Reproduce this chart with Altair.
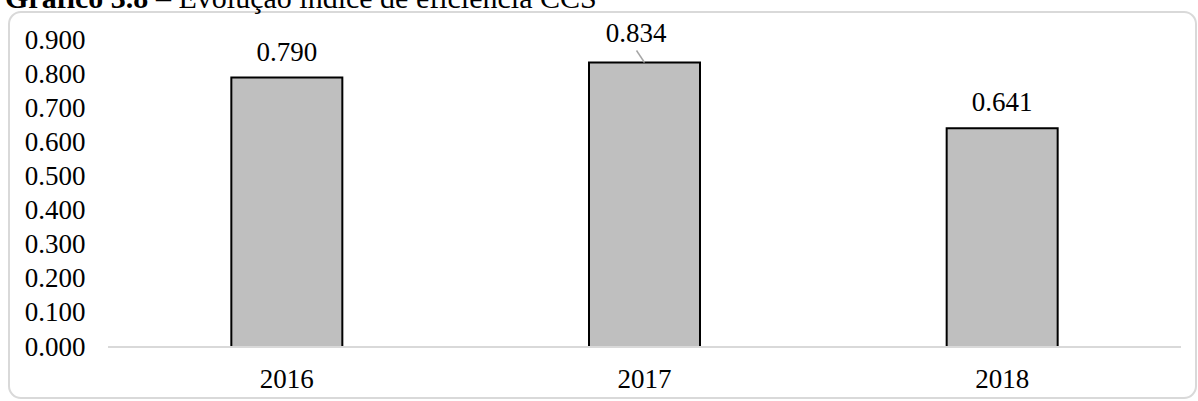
import altair as alt
import pandas as pd

# Índice de eficiência CCS por ano
anos = ["2016", "2017", "2018"]
indices = [0.790, 0.834, 0.641]
marcas_y = [0.0, 0.1, 0.2, 0.3, 0.4, 0.5, 0.6, 0.7, 0.8, 0.9]

titulo_negrito = "Gráfico 3.8"
titulo_resto = "– Evolução índice de eficiência CCS"

FONTE = "Liberation Serif"
W, H = 1073, 307
PAD = {"left": 108, "top": 40, "right": 17, "bottom": 54}

dados = pd.DataFrame({"ano": anos, "indice": indices})
zero = pd.DataFrame({"indice": [0.0]})
um = alt.Data(values=[{}])

escala_x = alt.Scale(domain=anos, paddingInner=0, paddingOuter=0)
escala_y = alt.Scale(domain=[0, 0.9], nice=False, zero=True)

eixo_x = alt.Axis(
    title=None, labelAngle=0, domain=False, ticks=False, tickSize=0,
    labelPadding=40, labelBaseline="alphabetic", labelFont=FONTE,
    labelFontSize=27, labelColor="black", labelOverlap=False,
)
eixo_y = alt.Axis(
    title=None, values=marcas_y, format=".3f", grid=False, domain=False,
    ticks=False, tickSize=0, labelPadding=23, labelFont=FONTE,
    labelFontSize=27, labelColor="black", labelOverlap=False,
    labelFlush=False,
)

x_enc = alt.X("ano:N", scale=escala_x, axis=eixo_x)
y_enc = alt.Y("indice:Q", scale=escala_y, axis=eixo_y)

# moldura arredondada da área do gráfico
moldura = alt.Chart(um).mark_rect(
    fill="white", fillOpacity=0, stroke="#d9d9d9", strokeWidth=2, cornerRadius=12
).encode(
    x=alt.value(-99), x2=alt.value(1088), y=alt.value(-28), y2=alt.value(358)
)

barras = alt.Chart(dados).mark_bar(
    size=111, fill="#bfbfbf", stroke="black", strokeWidth=2
).encode(x=x_enc, y=y_enc)

linha_zero = alt.Chart(zero).mark_rule(color="#d9d9d9", strokeWidth=2).encode(y=y_enc)

rotulos = alt.Chart(dados).transform_filter(
    alt.datum.ano != "2017"
).mark_text(
    font=FONTE, fontSize=27, color="black", baseline="alphabetic", dy=-17
).encode(x=x_enc, y=y_enc, text=alt.Text("indice:Q", format=".3f"))

rotulo_2017 = alt.Chart(dados).transform_filter(
    alt.datum.ano == "2017"
).mark_text(
    font=FONTE, fontSize=27, color="black", baseline="alphabetic", dx=-8.5, dy=-21
).encode(x=x_enc, y=y_enc, text=alt.Text("indice:Q", format=".3f"))

guia_2017 = alt.Chart(dados).transform_filter(
    alt.datum.ano == "2017"
).mark_rule(
    color="#a6a6a6", strokeWidth=1.5, xOffset=-8, yOffset=-12, x2Offset=0, y2Offset=0
).encode(
    x=alt.X("ano:N", scale=escala_x, axis=eixo_x, bandPosition=0.5),
    x2=alt.X2("ano", bandPosition=0.5),
    y=y_enc,
    y2="indice",
)

titulo_a = alt.Chart(um).mark_text(
    text=titulo_negrito, font=FONTE, fontSize=30, fontWeight="bold",
    align="left", baseline="alphabetic", color="black",
).encode(x=alt.value(5 - PAD["left"]), y=alt.value(8 - PAD["top"]))

titulo_b = alt.Chart(um).mark_text(
    text=titulo_resto, font=FONTE, fontSize=30, align="left",
    baseline="alphabetic", color="black",
).encode(x=alt.value(5 + 151 - PAD["left"]), y=alt.value(8 - PAD["top"]))

chart = alt.layer(
    moldura, barras, linha_zero, guia_2017, rotulos, rotulo_2017, titulo_a, titulo_b
).properties(
    width=W, height=H, padding=PAD, background="white",
    autosize=alt.AutoSizeParams(type="none"),
).configure_view(
    stroke=None
).configure_axis(
    labelOverlap=False
)

chart.save("out.html", embed_options={"renderer": "svg", "actions": False})
